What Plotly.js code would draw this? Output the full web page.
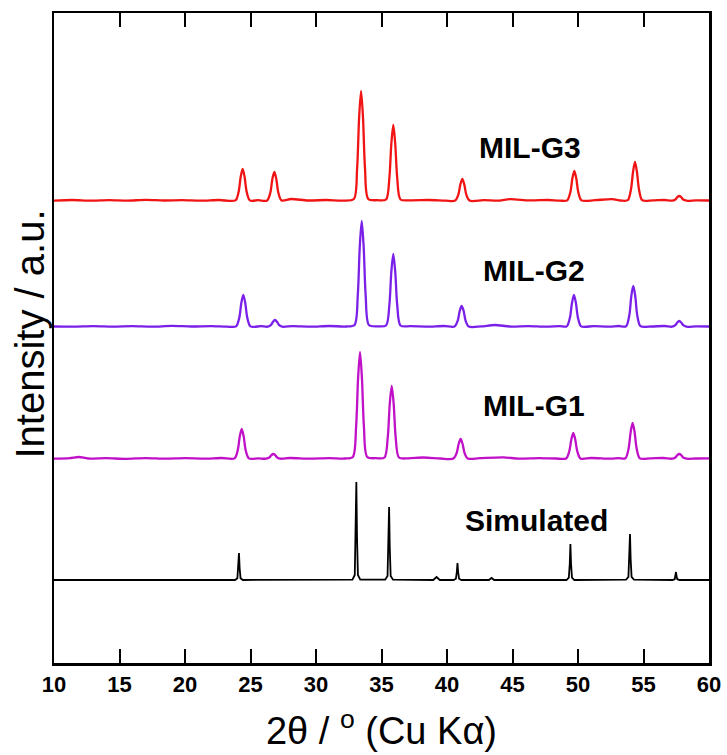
<!DOCTYPE html>
<html>
<head>
<meta charset="utf-8">
<script src="https://cdn.plot.ly/plotly-3.0.1.min.js"></script>
<style>html,body{margin:0;padding:0;background:#fff;}#chart{width:727px;height:755px;}</style>
</head>
<body>
<div id="chart"></div>
<script>
// Series names and vertical stacking offsets (intensity units)
const seriesNames = ["Simulated", "MIL-G1", "MIL-G2", "MIL-G3"];
const offsets = [83, 204, 336, 462];
const xTicks = [10, 15, 20, 25, 30, 35, 40, 45, 50, 55, 60];

// Simulated pattern
const simX = [10, 20, 23.82, 24.0, 24.07, 24.12, 24.17, 24.24, 24.42, 28, 32.78, 32.96, 33.03, 33.08, 33.13, 33.2, 33.38, 35.28, 35.46, 35.53, 35.58, 35.63, 35.7, 35.88, 38.95, 39.2, 39.45, 40.5, 40.68, 40.75, 40.8, 40.85, 40.92, 41.1, 43.2, 43.4, 43.6, 49.12, 49.3, 49.37, 49.42, 49.47, 49.54, 49.72, 53.67, 53.85, 53.92, 53.97, 54.02, 54.09, 54.27, 57.2, 57.38, 57.44, 57.48, 57.52, 57.58, 57.76, 60];
const simY = [0, 0, 0, 1.8, 12, 27, 12, 1.8, 0, 0, 0.3, 5, 44, 98, 44, 5, 0.3, 0.3, 4, 33, 73, 33, 4, 0.3, 0, 3, 0, 0, 1.3, 8, 17, 8, 1.3, 0, 0, 2, 0, 0, 2.5, 16, 36, 16, 2.5, 0, 0.3, 3.2, 21, 46, 21, 3.2, 0.3, 0, 0.8, 4, 8, 4, 0.8, 0, 0];

// MIL-G1
const g1X = [10, 11.2, 11.9, 12.6, 14, 15.5, 17, 18.5, 20, 21.5, 22.8,
  23.78, 24.03, 24.18, 24.33, 24.48, 24.63, 24.88, 25.6,
  26.19, 26.44, 26.59, 26.74, 26.89, 27.04, 27.29, 28, 29.5, 31, 32.2,
  32.81, 33.06, 33.21, 33.36, 33.51, 33.66, 33.91, 34.6,
  35.23, 35.48, 35.63, 35.78, 35.93, 36.08, 36.33, 37, 38.2, 39.5,
  40.49, 40.74, 40.89, 41.04, 41.19, 41.34, 41.59, 42.5, 44.3, 45.5, 47, 48.3,
  49.09, 49.34, 49.49, 49.64, 49.79, 49.94, 50.19, 51, 52.5, 53.1,
  53.62, 53.87, 54.02, 54.17, 54.32, 54.47, 54.72, 55.5, 56.5,
  57.18, 57.43, 57.58, 57.73, 57.88, 58.03, 58.28, 59, 60];
const g1Y = [0.3, 0.8, 2, 0.5, 0.8, 0.2, 0.9, 0.3, 0.8, 0.4, 1,
  0.6, 9, 22.5, 30, 22.5, 9, 0.6, 0.6,
  0.3, 1.5, 3.8, 5, 3.8, 1.5, 0.3, 1, 0.4, 0.9, 0.5,
  2, 32, 80, 107, 80, 32, 2, 0.8,
  1.5, 22, 55, 73, 55, 22, 1.5, 0.6, 1.5, 0.5,
  0.4, 6, 15, 20, 15, 6, 0.4, 0.8, 1.6, 0.4, 0.9, 0.5,
  0.5, 8, 19.5, 26, 19.5, 8, 0.5, 1, 0.4, 0.8,
  0.7, 11, 27, 36, 27, 11, 0.7, 0.6, 1,
  0.3, 1.5, 3.8, 5, 3.8, 1.5, 0.3, 0.5, 0.6];

// MIL-G2
const g2X = [10, 11.5, 13, 14.5, 16, 17.5, 19, 20.5, 22, 23.2,
  23.9, 24.15, 24.3, 24.45, 24.6, 24.75, 25.0, 25.8,
  26.32, 26.57, 26.72, 26.87, 27.02, 27.17, 27.42, 28.2, 29.6, 31, 32.3,
  32.94, 33.19, 33.34, 33.49, 33.64, 33.79, 34.04, 34.7,
  35.35, 35.6, 35.75, 35.9, 36.05, 36.2, 36.45, 37.2, 38.5, 39.8,
  40.57, 40.82, 40.97, 41.12, 41.27, 41.42, 41.67, 42.6, 43.66, 44.8, 46.2, 47.6, 48.6,
  49.14, 49.39, 49.54, 49.69, 49.84, 49.99, 50.24, 51.2, 52.4, 53.1,
  53.67, 53.92, 54.07, 54.22, 54.37, 54.52, 54.77, 55.6, 56.6,
  57.18, 57.43, 57.58, 57.73, 57.88, 58.03, 58.28, 59, 60];
const g2Y = [0.5, 0.3, 0.9, 0.4, 0.8, 0.3, 1.1, 0.5, 0.9, 0.4,
  0.6, 9.6, 24, 32, 24, 9.6, 0.6, 0.8,
  0.3, 2.1, 5.3, 7, 5.3, 2.1, 0.3, 0.9, 0.4, 1, 0.5,
  2, 32, 80, 106, 80, 32, 2, 0.7,
  1.5, 22, 55, 73, 55, 22, 1.5, 0.8, 0.4, 1,
  0.4, 6.3, 16, 21, 16, 6.3, 0.4, 0.6, 2, 0.5, 0.9, 0.3, 0.8,
  0.6, 9.6, 24, 32, 24, 9.6, 0.6, 0.9, 0.4, 1,
  0.8, 12, 31, 41, 31, 12, 0.8, 0.5, 1,
  0.3, 1.8, 4.5, 6, 4.5, 1.8, 0.3, 0.7, 0.5];

// MIL-G3
const g3X = [10, 11.4, 12.8, 14.2, 15.6, 17, 18.4, 19.8, 21.2, 22.6,
  23.85, 24.1, 24.25, 24.4, 24.55, 24.7, 24.95, 25.6,
  26.27, 26.52, 26.67, 26.82, 26.97, 27.12, 27.37, 28.1, 29.4, 30.8, 32.1,
  32.89, 33.14, 33.29, 33.44, 33.59, 33.74, 33.99, 34.7,
  35.35, 35.6, 35.75, 35.9, 36.05, 36.2, 36.45, 37.2, 38.6, 39.9,
  40.62, 40.87, 41.02, 41.17, 41.32, 41.47, 41.72, 42.8, 44.0, 44.8, 46.3, 47.7, 48.6,
  49.17, 49.42, 49.57, 49.72, 49.87, 50.02, 50.27, 51.3, 52.6, 53.25,
  53.8, 54.05, 54.2, 54.35, 54.5, 54.65, 54.9, 55.7, 56.6,
  57.18, 57.43, 57.58, 57.73, 57.88, 58.03, 58.28, 59, 60];
const g3Y = [0.4, 1, 0.3, 0.9, 0.4, 1.1, 0.5, 0.8, 0.3, 1,
  0.6, 9.6, 24, 32, 24, 9.6, 0.6, 0.8,
  0.5, 8.7, 22, 29, 22, 8.7, 0.5, 2, 0.5, 1, 0.4,
  2, 33, 83, 110, 83, 33, 2, 0.8,
  1.5, 23, 57, 76, 57, 23, 1.5, 0.7, 1, 0.4,
  0.4, 6.6, 16.5, 22, 16.5, 6.6, 0.4, 0.8, 0.4, 1.8, 0.6, 1, 0.4,
  0.6, 9, 22.5, 30, 22.5, 9, 0.6, 0.8, 1.8, 0.5,
  0.8, 12, 29, 39, 29, 12, 0.8, 0.6, 1,
  0.3, 1.5, 3.8, 5, 3.8, 1.5, 0.3, 0.6, 0.5];

const seriesX = [simX, g1X, g2X, g3X];
const seriesY = [simY, g1Y, g2Y, g3Y];
const colors = ["#000000", "#c010c8", "#7a20e8", "#f01414"];
const widths = [1.8, 2.3, 2.3, 2.3];
const shapes = ["linear", "spline", "spline", "spline"];

const traces = seriesNames.map((name, i) => ({
  type: "scatter", mode: "lines", name: name,
  x: seriesX[i],
  y: seriesY[i].map(v => v + offsets[i]),
  line: {color: colors[i], width: widths[i], shape: shapes[i], smoothing: 0.8},
  hoverinfo: "skip"
}));

const fam = "Liberation Sans, Arial, sans-serif";
const labelFont = {family: fam, size: 30, color: "#000", weight: "bold"};
const annotations = [
  {text: "MIL-G3", x: 46.35, y: 516, xref: "x", yref: "y", showarrow: false, font: labelFont},
  {text: "MIL-G2", x: 46.65, y: 393, xref: "x", yref: "y", showarrow: false, font: labelFont},
  {text: "MIL-G1", x: 46.65, y: 258, xref: "x", yref: "y", showarrow: false, font: labelFont},
  {text: "Simulated", x: 46.8, y: 143, xref: "x", yref: "y", showarrow: false, font: labelFont},
  {text: "Intensity / a.u.", textangle: -90, x: -0.036, y: 0.506, xref: "paper", yref: "paper",
   xanchor: "center", yanchor: "middle", showarrow: false, font: {family: fam, size: 40, color: "#000"}}
];

const layout = {
  width: 727, height: 755,
  margin: {l: 54, r: 18, t: 13, b: 92, pad: 0},
  paper_bgcolor: "#fff", plot_bgcolor: "#fff",
  showlegend: false,
  xaxis: {
    range: [10, 60], tickvals: xTicks, ticktext: xTicks.map(String),
    ticks: "inside", ticklen: 14, tickwidth: 2, tickcolor: "#000",
    showline: true, linewidth: 2.5, linecolor: "#000", mirror: "ticks",
    showgrid: false, zeroline: false,
    tickfont: {family: fam, size: 22, color: "#000", weight: "bold"},
    title: {text: "2θ / <sup>o</sup> (Cu Kα)", font: {family: fam, size: 38, color: "#000"}, standoff: 22}
  },
  yaxis: {
    range: [0, 650], showticklabels: false, ticks: "",
    showline: true, linewidth: 2.5, linecolor: "#000", mirror: true,
    showgrid: false, zeroline: false
  },
  annotations: annotations
};

Plotly.newPlot("chart", traces, layout, {displayModeBar: false, staticPlot: true});
</script>
</body>
</html>
